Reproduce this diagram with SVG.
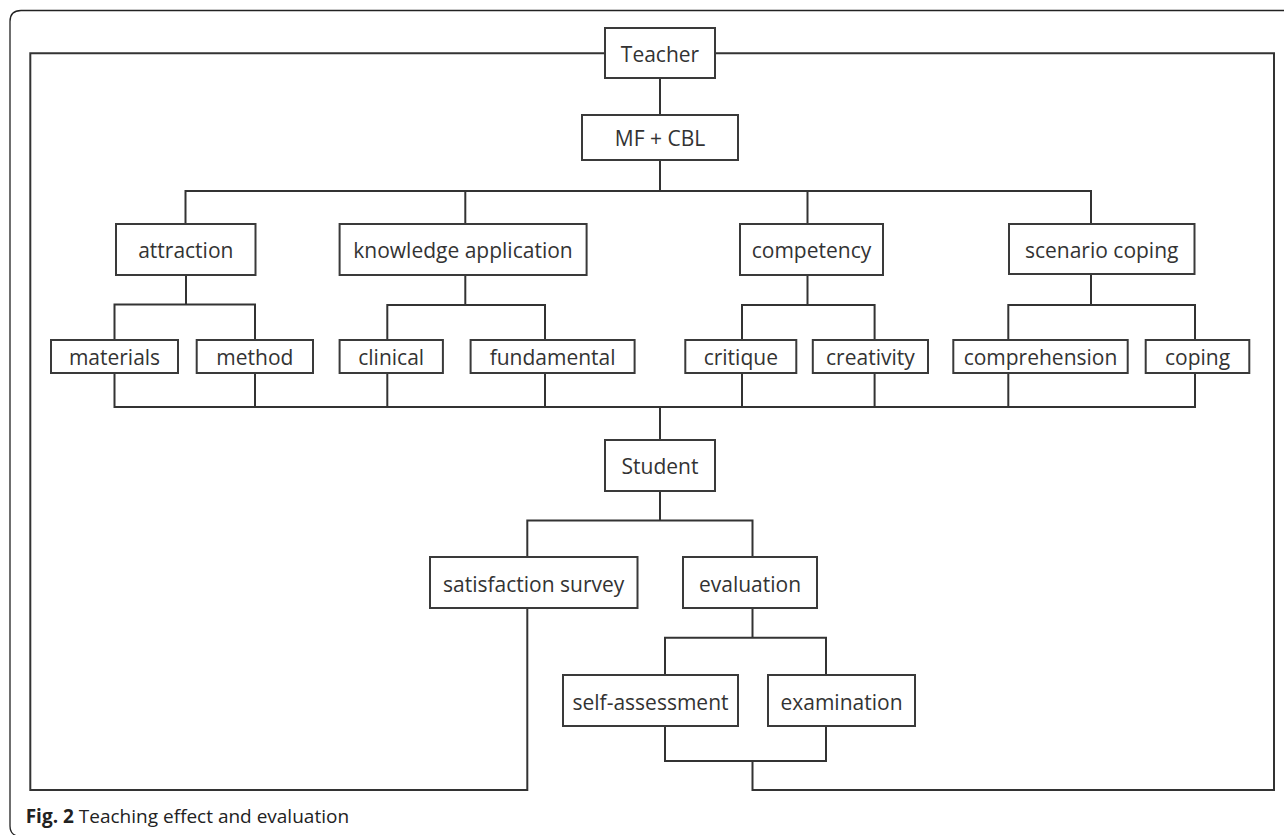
<svg xmlns="http://www.w3.org/2000/svg" width="1284" height="835" viewBox="0 0 1284 835">
<style>
  .box { fill: #ffffff; stroke: #3a3a3a; stroke-width: 2; }
  .lbl { font-family: "Open Sans", "Noto Sans", "Liberation Sans", sans-serif; font-size: 21px; fill: #333333; text-anchor: middle; }
  .conn { fill: none; stroke: #333333; stroke-width: 2; }
  .frame { fill: none; stroke: #222222; stroke-width: 1.3; }
  .cap { font-family: "Open Sans", "Noto Sans", "Liberation Sans", sans-serif; font-size: 19px; fill: #222222; }
</style>
<rect width="1284" height="835" fill="#ffffff"/>
<path class="frame" d="M1290,10.5 H21 Q10,10.5 10,21.5 V826 Q10,834 17,836"/>

<g id="connectors">
  <!-- inner frame -->
  <path class="conn" d="M527.3,608 V790 H30.3 V53.3 H605"/>
  <path class="conn" d="M715,53.3 H1274 V790 H752.5 V761"/>
  <!-- teacher to MF -->
  <path class="conn" d="M660,78 V115"/>
  <path class="conn" d="M660,160 V191"/>
  <path class="conn" d="M185.5,224 V191 H1091 V224"/>
  <path class="conn" d="M465.3,191 V224"/>
  <path class="conn" d="M807.5,191 V224"/>
  <!-- attraction -->
  <path class="conn" d="M186,275 V304.5"/>
  <path class="conn" d="M114.5,340 V304.5 H255 V340"/>
  <!-- knowledge application -->
  <path class="conn" d="M465.3,275 V305"/>
  <path class="conn" d="M387.3,340 V305 H545 V340"/>
  <!-- competency -->
  <path class="conn" d="M807.5,275 V305"/>
  <path class="conn" d="M742,340 V305 H874.6 V340"/>
  <!-- scenario coping -->
  <path class="conn" d="M1091,274 V305"/>
  <path class="conn" d="M1008.3,340 V305 H1195 V340"/>
  <!-- bottom collector -->
  <path class="conn" d="M114.5,373 V407 H1195 V373"/>
  <path class="conn" d="M255,373 V407"/>
  <path class="conn" d="M387.3,373 V407"/>
  <path class="conn" d="M545,373 V407"/>
  <path class="conn" d="M742,373 V407"/>
  <path class="conn" d="M874.6,373 V407"/>
  <path class="conn" d="M1008.3,373 V407"/>
  <path class="conn" d="M660,407 V440"/>
  <!-- student -->
  <path class="conn" d="M660,491 V520.5"/>
  <path class="conn" d="M527.3,557 V520.5 H752.5 V557"/>
  <!-- evaluation -->
  <path class="conn" d="M752.5,608 V637.7"/>
  <path class="conn" d="M665,675 V637.7 H826 V675"/>
  <path class="conn" d="M665,726 V761 H826 V726"/>
</g>

<g id="teacher"><rect class="box" x="605" y="28" width="110" height="50"/><text class="lbl" x="660" y="62">Teacher</text></g>
<g id="mfcbl"><rect class="box" x="582" y="115" width="156" height="45"/><text class="lbl" x="660" y="145.5">MF + CBL</text></g>

<g id="attraction"><rect class="box" x="116" y="224" width="139.5" height="51"/><text class="lbl" x="185.8" y="258">attraction</text></g>
<g id="knowledge"><rect class="box" x="339.6" y="224" width="247" height="51"/><text class="lbl" x="463" y="258">knowledge application</text></g>
<g id="competency"><rect class="box" x="740" y="224" width="143" height="51"/><text class="lbl" x="811.5" y="258">competency</text></g>
<g id="scenario"><rect class="box" x="1009" y="224" width="185.5" height="50"/><text class="lbl" x="1101.7" y="258">scenario coping</text></g>

<g id="materials"><rect class="box" x="51" y="340" width="127" height="33"/><text class="lbl" x="114.5" y="365">materials</text></g>
<g id="method"><rect class="box" x="196.7" y="340" width="116.3" height="33"/><text class="lbl" x="254.9" y="365">method</text></g>
<g id="clinical"><rect class="box" x="339.6" y="340" width="103.3" height="33"/><text class="lbl" x="391.2" y="365">clinical</text></g>
<g id="fundamental"><rect class="box" x="470.6" y="340" width="164" height="33"/><text class="lbl" x="552.6" y="365">fundamental</text></g>
<g id="critique"><rect class="box" x="685.3" y="340" width="111" height="33"/><text class="lbl" x="740.8" y="365">critique</text></g>
<g id="creativity"><rect class="box" x="812.8" y="340" width="115.2" height="33"/><text class="lbl" x="870.4" y="365">creativity</text></g>
<g id="comprehension"><rect class="box" x="953.3" y="340" width="174.4" height="33"/><text class="lbl" x="1040.5" y="365">comprehension</text></g>
<g id="coping"><rect class="box" x="1145.7" y="340" width="103.6" height="33"/><text class="lbl" x="1197.5" y="365">coping</text></g>

<g id="student"><rect class="box" x="605" y="440" width="110" height="51"/><text class="lbl" x="660" y="474">Student</text></g>
<g id="satisfaction"><rect class="box" x="430" y="557" width="207.5" height="51"/><text class="lbl" x="533.7" y="591.5">satisfaction survey</text></g>
<g id="evaluation"><rect class="box" x="683" y="557" width="134" height="51"/><text class="lbl" x="750" y="591.5">evaluation</text></g>
<g id="selfassessment"><rect class="box" x="563" y="675" width="175" height="51"/><text class="lbl" x="650.5" y="709.5">self-assessment</text></g>
<g id="examination"><rect class="box" x="768" y="675" width="147" height="51"/><text class="lbl" x="841.5" y="709.5">examination</text></g>

<text class="cap" x="25.7" y="823.3"><tspan font-weight="bold">Fig. 2</tspan> Teaching effect and evaluation</text>
</svg>
